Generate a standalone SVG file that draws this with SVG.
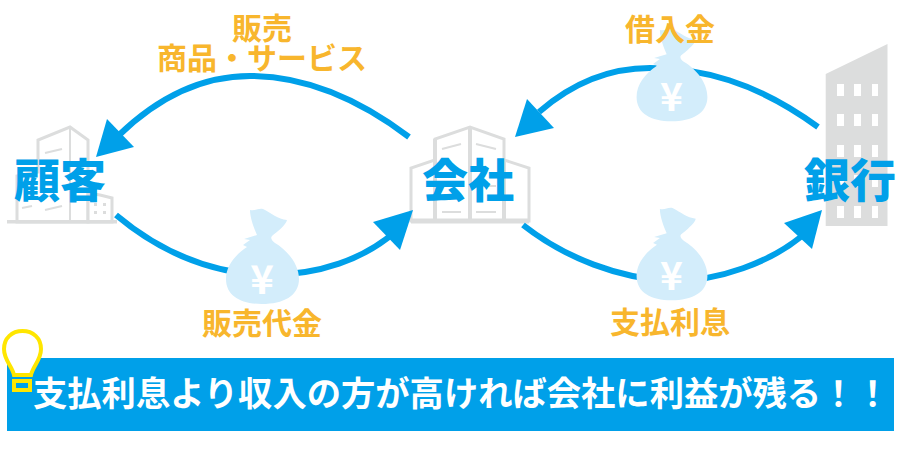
<svg xmlns="http://www.w3.org/2000/svg" xmlns:xlink="http://www.w3.org/1999/xlink" width="900" height="450" viewBox="0 0 900 450">
<style>
text{font-family:"Noto Sans CJK JP","Noto Sans",sans-serif;font-weight:700}
.o{fill:#f8b62d;font-size:30px;text-anchor:middle}
.n{fill:#00a0e9;font-size:46px;text-anchor:middle;font-weight:900}
.a{fill:none;stroke:#00a0e9;stroke-width:6}
.h{fill:#00a0e9}
.b{fill:#fff;stroke:#dcdddd;stroke-width:3;stroke-linejoin:miter}
.g{fill:none;stroke:#dcdddd;stroke-width:2}
.y{fill:#fff;font-size:40px;text-anchor:middle}
</style>
<defs>
<g id="bag">
<path fill="#d3edfb" d="M250 210C256 211 258 208 263 209C271 213 278 219 287 220C286 225 277 232 272 236C270 238 272 241 275 243C287 250 299 264 299 279C299 296 283 304 262 304C241 304 226 296 226 279C226 266 235 255 247 247L243 245L250 240L244 239L257 235C254 228 250 218 250 210Z"/>
<text class="y" x="262" y="294">¥</text>
</g>
</defs>
<g id="node-customer">
<path class="b" d="M17 222V176L38 172V140L70 127L88 140V222Z"/>
<path class="g" d="M70 127V222"/>
<path class="b" d="M88 222V193L100 195L112 198V222Z"/>
<path class="g" d="M45 153L62 149M45 210L62 206M22 208L32 206"/>
<path d="M94 203h3v3h-3zM103 203h3v3h-3zM94 211h3v3h-3zM103 211h3v3h-3z" fill="#dcdddd"/>
<path d="M7 220H117V223.500H7Z" fill="#dcdddd"/>
</g>
<g id="node-company">
<path class="b" d="M411 221V168L435 160V139L470 127L504 139V160L529 168V221Z"/>
<path d="M435 139V221M470 127V221M504 160V221" fill="none" stroke="#dcdddd" stroke-width="4"/>
<path d="M411 221H529" stroke="#dcdddd" stroke-width="5"/>
<path class="g" d="M442 149L461 144M476 144L496 149M442 212H461M476 212H496M442 198H461M476 186H496"/>
</g>
<g id="node-bank">
<path fill="#dcdddd" d="M825.700 74L887.500 44V226H825.700Z"/>
<path fill="#fff" d="M837 84h7v12h-7zM854 84h7v12h-7zM872 84h6v12h-6zM837 114h7v12h-7zM854 114h7v12h-7zM872 114h6v12h-6zM837 145h7v12h-7zM854 145h7v12h-7zM872 145h6v12h-6zM837 175h7v12h-7zM854 175h7v12h-7zM872 175h6v12h-6zM837 206h7v12h-7zM854 206h7v12h-7zM872 206h6v12h-6z"/>
</g>
<g id="connectors">
<path class="a" d="M409 137C360 100 305 76 250 76C200 76 155 100 118 136"/>
<path class="h" d="M96 157L107 119L134 147Z"/>
<path class="a" d="M116 215C160 252 210 272 262 275C320 276 365 258 395 232"/>
<path class="h" d="M413 210L373 222L400 250Z"/>
<path class="a" d="M818 127C755 81 700 68 650 68C605 68 570 85 539 112"/>
<path class="h" d="M515 137L527 99L554 128Z"/>
<path class="a" d="M523 225C565 258 620 279 672 281C720 281 770 262 802 236"/>
<path class="h" d="M822 210L784 223L812 249Z"/>
</g>
<g id="bag-sales"><use href="#bag"/></g>
<g id="bag-loan"><use href="#bag" transform="translate(672 29) scale(.97) translate(-262.500 -209)"/></g>
<g id="bag-interest"><use href="#bag" transform="translate(672 208) scale(.97) translate(-262.500 -209)"/></g>
<g id="labels">
<text class="o" x="262" y="39">販売<tspan x="262" y="69">商品・サービス</tspan></text>
<text class="o" x="670" y="40">借入金</text>
<text class="o" x="262" y="334">販売代金</text>
<text class="o" x="670" y="333">支払利息</text>
<text class="n" x="60" y="197">顧客</text>
<text class="n" x="468" y="197">会社</text>
<text class="n" x="850" y="197">銀行</text>
</g>
<g id="banner">
<rect x="7" y="358" width="887" height="73" fill="#00a0e9"/>
<text x="33" y="406" fill="#fff" style="font-size:34.300px">支払利息より収入の方が高ければ会社に利益が残る！！</text>
</g>
<g id="bulb" fill="none" stroke="#ffe600" stroke-width="4">
<path d="M14 375C12 366 4 360 4 349C4 338 12 331 22.500 331C33 331 41 338 41 349C41 360 33 366 31 375Z" fill="#fff"/>
<rect x="14" y="381" width="16" height="9"/>
</g>
</svg>
